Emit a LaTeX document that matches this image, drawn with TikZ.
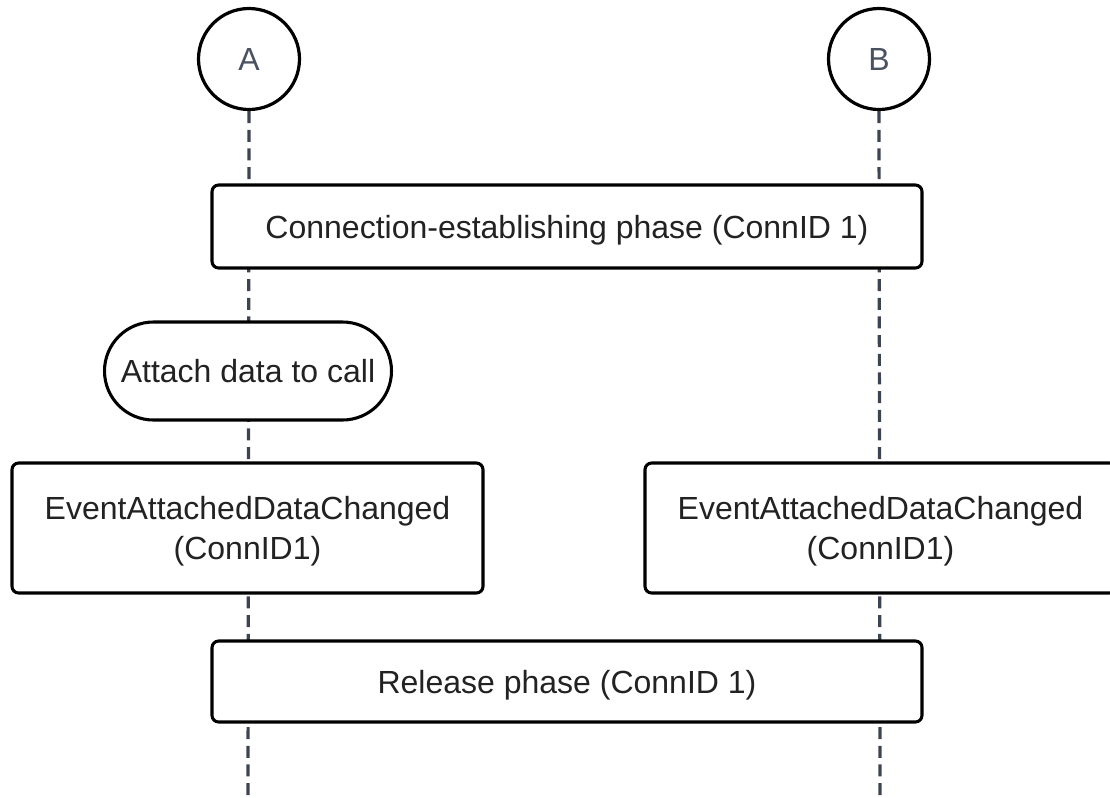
\documentclass[tikz,border=0pt]{standalone}
\usepackage{fontspec}
\setmainfont{Liberation Sans}
\usetikzlibrary{shapes.misc}
\definecolor{txt}{HTML}{222222}
\definecolor{lbl}{HTML}{4A5262}
\definecolor{life}{HTML}{3C4452}
\begin{document}
\begin{tikzpicture}[x=0.75pt,y=-0.75pt,
  every node/.style={font=\fontsize{24}{30}\selectfont, text=txt},
  actor/.style={circle, draw=black, line width=2.4pt, fill=white, minimum size=101*0.75pt, inner sep=0pt, text=lbl},
  phasebox/.style={draw=black, line width=2.3pt, fill=white, rounded corners=5pt, inner sep=0pt, align=center, text depth=0pt},
  stadium/.style={rounded rectangle, draw=black, line width=2.3pt, fill=white, inner sep=0pt, text depth=0pt, minimum width=287*0.75pt, minimum height=98*0.75pt},
  lifeline/.style={draw=life, line width=2.4pt, dash pattern=on 9pt off 5pt}]
\useasboundingbox (0,0) rectangle (1110,797);
\node[actor] (A) at (249,59) {A};
\node[actor] (B) at (879,59) {B};
\coordinate (Aend) at (248,797);
\coordinate (Bend) at (880,797);
\draw[lifeline] (A.south) -- (Aend);
\draw[lifeline] (B.south) -- (Bend);
\node[phasebox, minimum width=710*0.75pt, minimum height=83*0.75pt] (conn) at (567,226.5) {Connection-establishing phase (ConnID 1)};
\node[stadium] (attach) at (248,371) {Attach data to call};
\node[phasebox, minimum width=471*0.75pt, minimum height=130*0.75pt] (evA) at (247.5,528) {EventAttachedDataChanged\\(ConnID1)};
\node[phasebox, minimum width=471*0.75pt, minimum height=130*0.75pt] (evB) at (880.5,528) {EventAttachedDataChanged\\(ConnID1)};
\node[phasebox, minimum width=710*0.75pt, minimum height=81*0.75pt] (rel) at (567,681.5) {Release phase (ConnID 1)};
\end{tikzpicture}
\end{document}
